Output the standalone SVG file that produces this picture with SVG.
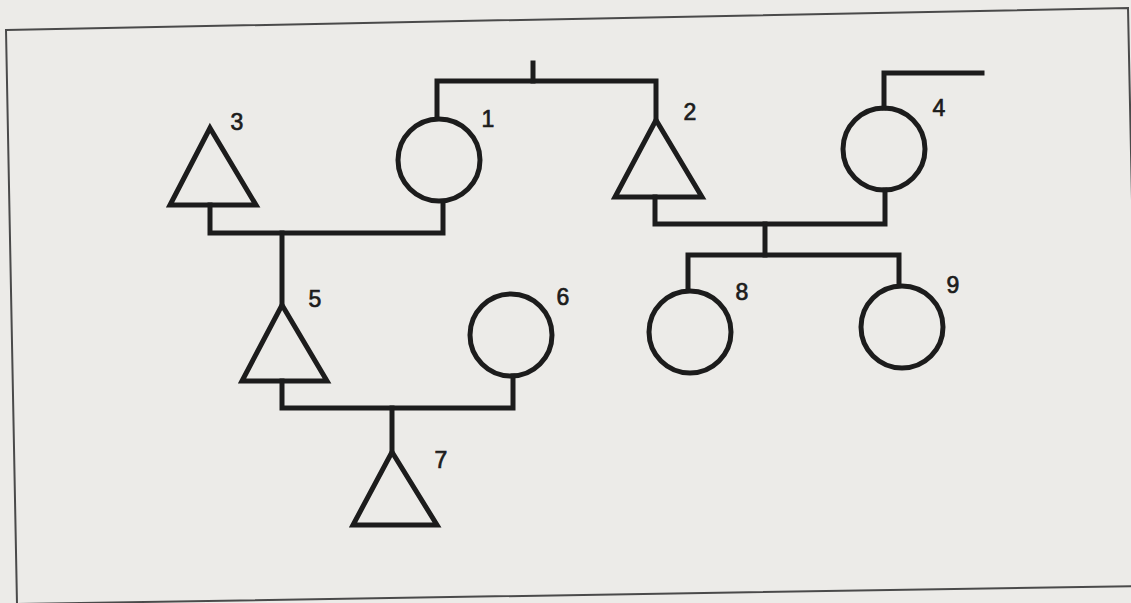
<svg xmlns="http://www.w3.org/2000/svg" width="1131" height="603" viewBox="0 0 1131 603">
<style>
.bg{fill:#ecebe8}
.frame{fill:none;stroke:#4a4a4a;stroke-width:2}
.sym{fill:none;stroke:#1c1c1c;stroke-width:5;stroke-linejoin:miter}
.con{fill:none;stroke:#1c1c1c;stroke-width:5;stroke-linejoin:miter;stroke-linecap:square}
.lbl{font-family:"Liberation Sans",Arial,sans-serif;font-size:23px;fill:#1c1c1c;stroke:#1c1c1c;stroke-width:0.7;text-anchor:middle;dominant-baseline:central}
</style>
<rect class="bg" x="0" y="0" width="1131" height="603"/>
<polygon class="frame" points="6,30 1128,8 1140,586 17,604"/>
<g id="connectors">
<path class="con" d="M437,117 V81 H656 V120"/>
<path class="con" d="M533,63 V81"/>
<path class="con" d="M210,205 V233 H443 V203"/>
<path class="con" d="M282,233 V305"/>
<path class="con" d="M884,108 V73 H982"/>
<path class="con" d="M655,197 V224 H885 V190"/>
<path class="con" d="M765,224 V255"/>
<path class="con" d="M688,290 V255 H899 V285"/>
<path class="con" d="M282,381 V408 H513 V376"/>
<path class="con" d="M392,408 V452"/>
</g>
<g id="node1"><circle class="sym" cx="439" cy="160" r="41"/><text class="lbl" x="488" y="119">1</text></g>
<g id="node2"><polygon class="sym" points="656,120 702,197 615,197"/><text class="lbl" x="690" y="112">2</text></g>
<g id="node3"><polygon class="sym" points="210,128 256,205 170,205"/><text class="lbl" x="237" y="122">3</text></g>
<g id="node4"><circle class="sym" cx="884" cy="149" r="41"/><text class="lbl" x="939" y="108">4</text></g>
<g id="node5"><polygon class="sym" points="282,305 327,381 242,381"/><text class="lbl" x="315" y="299">5</text></g>
<g id="node6"><circle class="sym" cx="511" cy="335" r="41"/><text class="lbl" x="563" y="297">6</text></g>
<g id="node7"><polygon class="sym" points="392,452 437,525 353,525"/><text class="lbl" x="441" y="460">7</text></g>
<g id="node8"><circle class="sym" cx="690" cy="332" r="41"/><text class="lbl" x="742" y="292">8</text></g>
<g id="node9"><circle class="sym" cx="902" cy="327" r="41"/><text class="lbl" x="953" y="285">9</text></g>
</svg>
